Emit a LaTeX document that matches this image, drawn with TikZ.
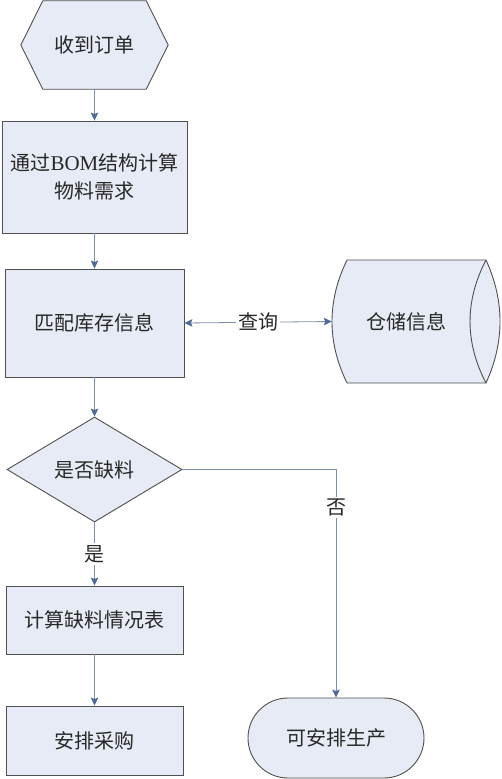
\documentclass[tikz,border=0pt]{standalone}
\usepackage{fontspec}
\newfontfamily\cjk{Noto Sans CJK SC}
\newfontfamily\latinserif{Liberation Serif}
\usetikzlibrary{shapes.geometric,shapes.misc,arrows.meta,calc}
\definecolor{boxfill}{RGB}{230,235,246}
\definecolor{boxline}{RGB}{80,80,80}
\definecolor{conn}{RGB}{125,142,168}
\definecolor{tip}{RGB}{78,106,150}
\definecolor{txt}{RGB}{40,40,40}
\tikzset{
  base/.style={font=\cjk\fontsize{20}{28}\selectfont, text=txt, inner sep=0pt, align=center},
  boxnode/.style={base, draw=boxline, fill=boxfill, line width=0.9pt, rectangle},
  ghost/.style={base, rectangle, draw=none},
  outline/.style={draw=boxline, fill=boxfill, line width=0.9pt},
  decision/.style={base, diamond, draw=boxline, fill=boxfill, line width=0.9pt, aspect=1.667},
  termnode/.style={base, rounded rectangle, draw=boxline, fill=boxfill, line width=0.9pt},
  conn/.style={draw=conn, line width=0.8pt, -{Stealth[length=8pt,width=7.5pt,inset=1.5pt,color=tip]}},
  biconn/.style={draw=conn, line width=0.8pt, {Stealth[length=8pt,width=7.5pt,inset=1.5pt,color=tip]}-{Stealth[length=8pt,width=7.5pt,inset=1.5pt,color=tip]}},
  lbl/.style={base, fill=white, inner sep=2pt}
}
\begin{document}
\begin{tikzpicture}[x=1pt,y=-1pt]
\useasboundingbox (0,0) rectangle (502,779);
% start hexagon
\node[ghost, minimum width=147pt, minimum height=88pt] (start) at (94.5,45) {};
\path[outline] (start.west) -- ($(start.north west)+(22,0)$) -- ($(start.north east)+(-22,0)$) -- (start.east) -- ($(start.south east)+(-22,0)$) -- ($(start.south west)+(22,0)$) -- cycle;
\node[base] at (start) {收到订单};
% boxes
\node[boxnode, minimum width=185pt, minimum height=112pt] (bom) at (94.5,177) {通过{\latinserif\fontsize{21}{28}\selectfont BOM}结构计算\\物料需求};
\node[boxnode, minimum width=179pt, minimum height=108pt] (match) at (94.5,323) {匹配库存信息};
% storage
\node[ghost, minimum width=168pt, minimum height=123pt] (db) at (416,321.5) {};
\path[outline] (347,260) -- (486,260) .. controls (504.7,301) and (504.7,342) .. (486,383) -- (347,383) .. controls (327,342) and (327,301) .. (347,260) -- cycle;
\draw[draw=boxline, line width=0.9pt] (486,260) .. controls (464.7,301) and (464.7,342) .. (486,383);
\node[base] at (406,321.5) {仓储信息};
% decision
\node[decision, minimum width=175pt, minimum height=105pt] (dia) at (94.5,469.5) {是否缺料};
\node[boxnode, minimum width=177pt, minimum height=68pt] (calc) at (94.5,620) {计算缺料情况表};
\node[boxnode, minimum width=177pt, minimum height=69pt] (buy) at (94.5,740.5) {安排采购};
\node[termnode, minimum width=176pt, minimum height=80pt] (term) at (336,738) {可安排生产};
% connectors
\draw[conn] (start.south) -- (bom.north);
\draw[conn] (bom.south) -- (match.north);
\draw[conn] (match.south) -- (dia.north);
\draw[conn] (dia.south) -- node[lbl] {是} (calc.north);
\draw[conn] (calc.south) -- (buy.north);
\draw[biconn] (match.east) -- node[lbl] {查询} (db.west);
\draw[conn] (dia.east) -| node[lbl, pos=0.583] {否} (term.north);
\end{tikzpicture}
\end{document}
